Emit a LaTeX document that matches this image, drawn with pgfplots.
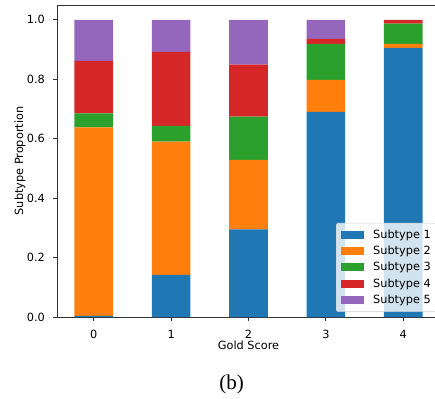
\documentclass[border=0pt]{standalone}
\usepackage{pgfplots}
\pgfplotsset{compat=1.18}
\usepackage{fontspec}
\setmainfont{DejaVu Sans}
\newfontfamily\timesfont{Liberation Serif}
\definecolor{c0}{HTML}{1F77B4}
\definecolor{c1}{HTML}{FF7F0E}
\definecolor{c2}{HTML}{2CA02C}
\definecolor{c3}{HTML}{D62728}
\definecolor{c4}{HTML}{9467BD}
\pgfplotsset{leg/.style={legend image code/.code={\fill[##1, sharp corners, fill opacity=1] (0pt,-4pt) rectangle (23pt,4pt); \path (32pt,0pt);}}}
\begin{document}
\fontsize{11.3}{13.5}\selectfont
\begin{tikzpicture}
\begin{axis}[
  at={(0pt,0pt)}, anchor=south west,
  scale only axis, width=383pt, height=312pt,
  xmin=-0.475, xmax=4.475, ymin=0, ymax=1.05,
  ybar stacked, bar width=0.5,
  axis lines*=left,
  axis line style={black!80, line width=0.9pt},
  tick style={black!80, line width=0.9pt},
  tick align=outside, major tick length=4pt,
  xtick={0,1,2,3,4},
  ytick={0,0.2,0.4,0.6,0.8,1.0},
  /pgf/number format/assume math mode=true,
  yticklabel style={/pgf/number format/fixed, /pgf/number format/fixed zerofill, /pgf/number format/precision=1, anchor=east, inner sep=0pt, xshift=-8pt},
  xticklabel style={anchor=base, inner sep=0pt, yshift=-17pt},
  xlabel={Gold Score}, ylabel={Subtype Proportion},
  xlabel style={at={(axis description cs:0.5,-0.1026)}, anchor=base, inner sep=0pt},
  ylabel style={at={(axis description cs:-0.0966,0.5)}, anchor=center, inner sep=0pt},
  legend style={at={(rel axis cs:0.7285,0.3013)}, anchor=north west, draw=black!20, fill=white, fill opacity=0.8, text opacity=1, rounded corners=2pt, inner xsep=5pt, inner ysep=6.5pt, row sep=6pt, nodes={inner sep=0pt}},
  legend cell align=left,
]
\addplot[fill=c0, draw=none, leg] coordinates {(0,0.004) (1,0.142) (2,0.295) (3,0.690) (4,0.906)};
\addplot[fill=c1, draw=none, leg] coordinates {(0,0.634) (1,0.448) (2,0.234) (3,0.108) (4,0.013)};
\addplot[fill=c2, draw=none, leg] coordinates {(0,0.047) (1,0.053) (2,0.145) (3,0.121) (4,0.068)};
\addplot[fill=c3, draw=none, leg] coordinates {(0,0.177) (1,0.249) (2,0.175) (3,0.017) (4,0.013)};
\addplot[fill=c4, draw=none, leg] coordinates {(0,0.138) (1,0.108) (2,0.151) (3,0.064) (4,0.000)};
\legend{Subtype 1, Subtype 2, Subtype 3, Subtype 4, Subtype 5}
\draw[black!80, line width=0.9pt] (rel axis cs:0,1) -- (rel axis cs:1,1);
\end{axis}
\node[font=\timesfont\fontsize{21}{24}\selectfont, anchor=base] at (174.5pt,-72pt) {(b)};
\pgfresetboundingbox
\useasboundingbox (-57pt,-81pt) rectangle (378pt,317pt);
\end{tikzpicture}
\end{document}
